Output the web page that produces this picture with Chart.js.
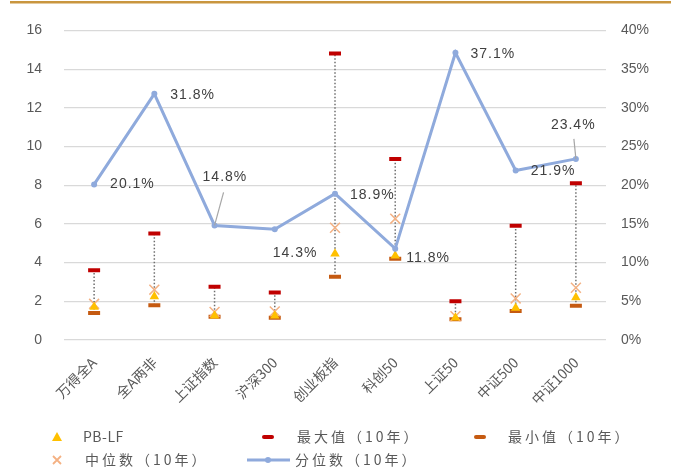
<!DOCTYPE html>
<html><head><meta charset="utf-8">
<script src="https://cdn.jsdelivr.net/npm/chart.js@4/dist/chart.umd.min.js"></script>
<style>html,body{margin:0;padding:0;background:#fff;}canvas{display:block}</style>
</head><body>
<canvas id="c" width="681" height="468"></canvas>
<script>
// ---- data ----
const categories = ['万得全A','全A两非','上证指数','沪深300','创业板指','科创50','上证50','中证500','中证1000'];
const pbLF = [1.7, 2.25, 1.25, 1.25, 4.46, 4.35, 1.15, 1.65, 2.2];
const maxValues = [3.6, 5.5, 2.75, 2.45, 14.8, 9.35, 2.0, 5.9, 8.1];
const minValues = [1.4, 1.8, 1.2, 1.15, 3.27, 4.2, 1.07, 1.5, 1.77];
const medianValues = [1.87, 2.6, 1.45, 1.48, 5.8, 6.27, 1.23, 2.15, 2.7];
const percentileValues = [20.1, 31.8, 14.8, 14.3, 18.9, 11.8, 37.1, 21.9, 23.4];
const leftAxis = {min: 0, max: 16, step: 2};
const rightAxis = {min: 0, max: 40, step: 5};
const seriesNames = ['PB-LF', '最大值（10年）', '最小值（10年）', '中位数（10年）', '分位数（10年）'];

// ---- styling / placement (not data) ----
const FONT = "'Liberation Sans', 'Noto Sans CJK SC', sans-serif";
const CJK = "'Noto Sans CJK SC', 'Liberation Sans', sans-serif";
const labelOffsets = [[16,0],[16,1],[-12,-48],[-2,24],[15,1],[11,9],[15,1],[15,1],[-25,-34]];
const leaders = {2: [9,-33], 8: [-2,-20]};

// dotted range connectors built from min/max arrays
const rangeData = [];
categories.forEach((c, i) => {
  rangeData.push({x: c, y: minValues[i]}, {x: c, y: maxValues[i]}, {x: c, y: null});
});

const colors = {
  pb: '#FFC000', max: '#C00000', min: '#C55A11', med: '#F4B183', line: '#8FAADC', dot: '#6f6f6f'
};

const extras = {
  id: 'extras',
  beforeDraw(chart) {
    const ctx = chart.ctx;
    ctx.save();
    ctx.fillStyle = '#fff';
    ctx.fillRect(0, 0, chart.width, chart.height);
    ctx.fillStyle = '#C9963F';
    ctx.fillRect(10, 1, 661, 2.5);
    ctx.restore();
  },
  afterDatasetsDraw(chart) {
    const ctx = chart.ctx;
    const meta = chart.getDatasetMeta(5);
    ctx.save();
    // leaders
    ctx.strokeStyle = '#a6a6a6';
    ctx.lineWidth = 1.2;
    Object.keys(leaders).forEach(k => {
      const p = meta.data[k];
      ctx.beginPath();
      ctx.moveTo(p.x, p.y);
      ctx.lineTo(p.x + leaders[k][0], p.y + leaders[k][1]);
      ctx.stroke();
    });
    ctx.font = '14px ' + FONT;
    ctx.fillStyle = '#404040';
    ctx.textBaseline = 'middle';
    ctx.textAlign = 'left';
    if ('letterSpacing' in ctx) ctx.letterSpacing = '1px';
    meta.data.forEach((p, i) => {
      const o = labelOffsets[i];
      ctx.fillText(percentileValues[i].toFixed(1) + '%', p.x + o[0], p.y + o[1]);
    });
    ctx.restore();

    // legend
    ctx.save();
    ctx.font = '14px ' + CJK;
    ctx.fillStyle = '#595959';
    ctx.textBaseline = 'middle';
    const r1 = 437, r2 = 460;
    // PB-LF triangle
    ctx.fillStyle = colors.pb;
    ctx.beginPath();
    ctx.moveTo(57, r1 - 5); ctx.lineTo(62, r1 + 4); ctx.lineTo(52, r1 + 4); ctx.closePath(); ctx.fill();
    // max dash
    ctx.strokeStyle = colors.max; ctx.lineWidth = 4; ctx.lineCap = 'round';
    ctx.beginPath(); ctx.moveTo(264, r1); ctx.lineTo(272, r1); ctx.stroke();
    // min dash
    ctx.strokeStyle = colors.min;
    ctx.beginPath(); ctx.moveTo(476, r1); ctx.lineTo(484, r1); ctx.stroke();
    // median x
    ctx.strokeStyle = colors.med; ctx.lineWidth = 1.8; ctx.lineCap = 'butt';
    ctx.beginPath(); ctx.moveTo(53, r2 - 4); ctx.lineTo(61, r2 + 4); ctx.moveTo(61, r2 - 4); ctx.lineTo(53, r2 + 4); ctx.stroke();
    // percentile line
    ctx.strokeStyle = colors.line; ctx.lineWidth = 3;
    ctx.beginPath(); ctx.moveTo(247, r2); ctx.lineTo(290, r2); ctx.stroke();
    ctx.fillStyle = colors.line;
    ctx.beginPath(); ctx.arc(268, r2, 3, 0, Math.PI * 2); ctx.fill();
    ctx.fillStyle = '#595959';
    if ('letterSpacing' in ctx) ctx.letterSpacing = '0.5px';
    ctx.fillText(seriesNames[0], 83, r1);
    if ('letterSpacing' in ctx) ctx.letterSpacing = '3px';
    ctx.fillText(seriesNames[1], 297, r1);
    ctx.fillText(seriesNames[2], 508, r1);
    ctx.fillText(seriesNames[3], 85, r2);
    ctx.fillText(seriesNames[4], 295, r2);
    ctx.restore();
  }
};

new Chart(document.getElementById('c'), {
  data: {
    labels: categories,
    datasets: [
      {type: 'line', label: 'range', data: rangeData, yAxisID: 'y', borderColor: colors.dot, borderWidth: 1.5,
       borderDash: [1.5, 2], pointRadius: 0, spanGaps: false, order: 10},
      {type: 'line', label: seriesNames[2], data: minValues, yAxisID: 'y', showLine: false, pointStyle: 'line',
       pointRadius: 6, pointBorderWidth: 4, borderColor: colors.min, backgroundColor: colors.min, order: 9},
      {type: 'line', label: seriesNames[1], data: maxValues, yAxisID: 'y', showLine: false, pointStyle: 'line',
       pointRadius: 6, pointBorderWidth: 4, borderColor: colors.max, backgroundColor: colors.max, order: 8},
      {type: 'line', label: seriesNames[3], data: medianValues, yAxisID: 'y', showLine: false, pointStyle: 'crossRot',
       pointRadius: 7, pointBorderWidth: 1.5, borderColor: colors.med, backgroundColor: colors.med, order: 7},
      {type: 'line', label: seriesNames[0], data: pbLF, yAxisID: 'y', showLine: false, pointStyle: 'triangle',
       pointRadius: 5.5, pointBorderWidth: 0, borderColor: colors.pb, backgroundColor: colors.pb, order: 6},
      {type: 'line', label: seriesNames[4], data: percentileValues, yAxisID: 'y1', borderColor: colors.line,
       backgroundColor: colors.line, borderWidth: 3, pointRadius: 3, pointBorderWidth: 0, tension: 0, order: 1}
    ]
  },
  options: {
    responsive: false,
    animation: false,
    devicePixelRatio: 1,
    layout: {padding: {top: 27, left: 0, right: 0, bottom: 0}},
    plugins: {legend: {display: false}, tooltip: {enabled: false}},
    scales: {
      x: {
        type: 'category',
        offset: true,
        grid: {display: false, offset: true},
        border: {display: false},
        ticks: {color: '#595959', font: {size: 14, family: CJK}, minRotation: 45, maxRotation: 45, padding: 6},
        afterFit(s) { s.height = 128; }
      },
      y: {
        position: 'left', min: leftAxis.min, max: leftAxis.max,
        ticks: {stepSize: leftAxis.step, color: '#595959', font: {size: 14, family: FONT}, padding: 22},
        grid: {color: '#d9d9d9', lineWidth: 1.2, drawTicks: false},
        border: {display: false},
        afterFit(s) { s.width = 64; }
      },
      y1: {
        position: 'right', min: rightAxis.min, max: rightAxis.max,
        ticks: {stepSize: rightAxis.step, color: '#595959', font: {size: 14, family: FONT}, padding: 15,
                callback: v => v + '%'},
        grid: {display: false, drawTicks: false},
        border: {display: false},
        afterFit(s) { s.width = 75; }
      }
    }
  },
  plugins: [extras]
});
</script>
</body></html>
